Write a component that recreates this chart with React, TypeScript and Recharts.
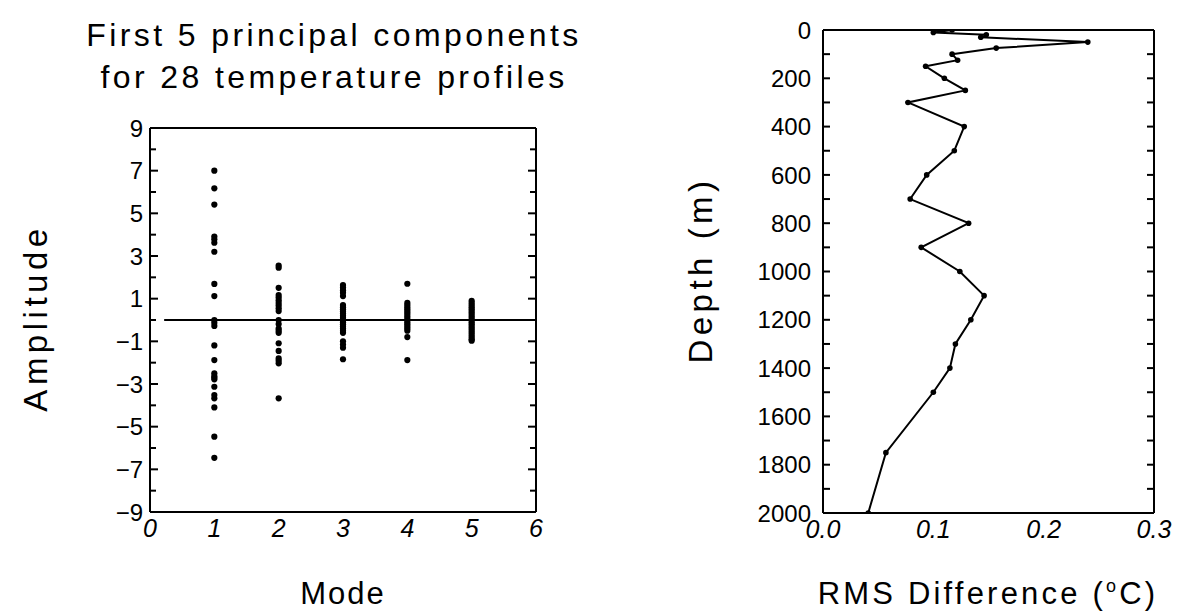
import React from 'react';
import { ScatterChart, Scatter, XAxis, YAxis, ReferenceLine } from 'recharts';

// ---------- Left panel data ----------
const MODES = [1, 2, 3, 4, 5];
const MODE_TICKS = [0, 1, 2, 3, 4, 5, 6];
const MODE_INNER_TICKS = [1, 2, 3, 4, 5];
const AMP_MAJOR = [-9, -7, -5, -3, -1, 1, 3, 5, 7, 9];
const AMP_MINOR = [-8, -6, -4, -2, 0, 2, 4, 6, 8];
const MODE1_AMP = [7.0, 6.17, 5.41, 3.91, 3.78, 3.62, 3.2, 1.69, 1.12, 0.0, -0.13, -0.28, -1.19, -1.88, -2.5, -2.63, -2.7, -2.78, -3.13, -3.52, -3.67, -4.1, -5.47, -6.46];
const MODE2_AMP = [2.55, 2.45, 1.51, 1.17, 1.05, 0.92, 0.8, 0.68, 0.55, 0.42, 0.0, -0.19, -0.4, -0.5, -0.6, -1.09, -1.45, -1.8, -1.91, -2.03, -3.67];
const MODE3_AMP = [1.64, 1.52, 1.4, 1.28, 1.12, 0.7, 0.6, 0.5, 0.4, 0.3, 0.2, 0.1, 0.0, -0.1, -0.2, -0.3, -0.4, -0.5, -0.6, -1.0, -1.15, -1.3, -1.84];
const MODE4_AMP = [1.7, 0.8, 0.7, 0.6, 0.5, 0.4, 0.3, 0.2, 0.1, 0.0, -0.1, -0.2, -0.3, -0.4, -0.5, -0.8, -1.88];
const MODE5_AMP = [0.9, 0.8, 0.7, 0.6, 0.5, 0.4, 0.3, 0.2, 0.1, 0.0, -0.1, -0.2, -0.3, -0.4, -0.5, -0.6, -0.7, -0.8, -0.9, -0.97];
const MODE_AMPS = [MODE1_AMP, MODE2_AMP, MODE3_AMP, MODE4_AMP, MODE5_AMP];
const ZERO_LINE = [{ x: 0.22, y: 0 }, { x: 6, y: 0 }];

// ---------- Right panel data ----------
const DEPTHS = [0, 10, 20, 30, 50, 75, 100, 125, 150, 200, 250, 300, 400, 500, 600, 700, 800, 900, 1000, 1100, 1200, 1300, 1400, 1500, 1750, 2000];
const RMS = [0.117, 0.1, 0.148, 0.143, 0.24, 0.157, 0.117, 0.122, 0.093, 0.11, 0.129, 0.077, 0.128, 0.119, 0.094, 0.079, 0.132, 0.089, 0.124, 0.146, 0.134, 0.12, 0.115, 0.1, 0.057, 0.041];
const DEPTH_MAJOR = [0, 200, 400, 600, 800, 1000, 1200, 1400, 1600, 1800, 2000];
const DEPTH_MINOR = [100, 300, 500, 700, 900, 1100, 1300, 1500, 1700, 1900];
const RMS_LABELS = [0, 0.1, 0.2, 0.3];
const RMS_INNER_TICKS = [0.05, 0.1, 0.15, 0.2, 0.25];

const scatterData = MODES.flatMap((m, i) => MODE_AMPS[i].map((a) => ({ mode: m, amp: a })));
const profileData = DEPTHS.map((d, i) => ({ depth: d, rms: RMS[i] }));

const FONT = '"Liberation Sans", Arial, Helvetica, sans-serif';
const LINE = { stroke: '#000', strokeWidth: 2 };
const TICKLINE = { stroke: '#000', strokeWidth: 2 };

const fmtAmp = (v: number) => (v < 0 ? '\u2212' + Math.abs(v) : String(v));

const YTick = (props: any) => {
  const { x, y, payload, fmt } = props;
  return (
    <text x={x} y={y} dy="0.36em" textAnchor="end" fontSize={24} fontFamily={FONT} fill="#000">
      {fmt(payload.value)}
    </text>
  );
};
const XTick = (props: any) => {
  const { x, y, payload, fmt } = props;
  return (
    <text x={x} y={y + 25} textAnchor="middle" fontSize={25} fontStyle="italic" fontFamily={FONT} fill="#000">
      {fmt(payload.value)}
    </text>
  );
};
const NoLabel = () => <g />;

const LeftDot = (p: any) => <circle cx={p.cx} cy={p.cy} r={3.1} fill="#000" />;
const RightDot = (p: any) => <circle cx={p.cx} cy={p.cy} r={2.8} fill="#000" />;

function LeftPanel() {
  const common = { type: 'number' as const, allowDataOverflow: true, interval: 0 as const };
  return (
    <ScatterChart width={600} height={616} margin={{ top: 128, right: 64, bottom: 103, left: 149 }}>
      <XAxis {...common} xAxisId="b" dataKey="mode" domain={[0, 6]} ticks={MODE_TICKS} orientation="bottom" height={1}
        tickLine={false} tickSize={0} tickMargin={0} axisLine={LINE}
        tick={(p: any) => <XTick {...p} fmt={(v: number) => String(v)} />} />
      <XAxis {...common} xAxisId="bm" domain={[0, 6]} ticks={MODE_INNER_TICKS} orientation="bottom" mirror height={1}
        tick={NoLabel} tickSize={8} tickLine={TICKLINE} axisLine={false} />
      <XAxis {...common} xAxisId="t" domain={[0, 6]} ticks={MODE_INNER_TICKS} orientation="top" mirror height={1}
        tick={NoLabel} tickSize={8} tickLine={TICKLINE} axisLine={LINE} />
      <YAxis {...common} yAxisId="l" dataKey="amp" domain={[-9, 9]} ticks={AMP_MAJOR} orientation="left" width={1}
        tickLine={false} tickSize={0} tickMargin={7} axisLine={LINE}
        tick={(p: any) => <YTick {...p} fmt={fmtAmp} />} />
      <YAxis {...common} yAxisId="lmaj" domain={[-9, 9]} ticks={AMP_MAJOR} orientation="left" mirror width={1}
        tick={NoLabel} tickSize={8} tickLine={TICKLINE} axisLine={false} />
      <YAxis {...common} yAxisId="lmin" domain={[-9, 9]} ticks={AMP_MINOR} orientation="left" mirror width={1}
        tick={NoLabel} tickSize={5} tickLine={TICKLINE} axisLine={false} />
      <YAxis {...common} yAxisId="rmaj" domain={[-9, 9]} ticks={AMP_MAJOR} orientation="right" mirror width={1}
        tick={NoLabel} tickSize={8} tickLine={TICKLINE} axisLine={LINE} />
      <YAxis {...common} yAxisId="rmin" domain={[-9, 9]} ticks={AMP_MINOR} orientation="right" mirror width={1}
        tick={NoLabel} tickSize={5} tickLine={TICKLINE} axisLine={false} />
      <ReferenceLine xAxisId="b" yAxisId="l" segment={ZERO_LINE} stroke="#000" strokeWidth={2} />
      <Scatter xAxisId="b" yAxisId="l" data={scatterData} shape={LeftDot} isAnimationActive={false} />
    </ScatterChart>
  );
}

function RightPanel() {
  const common = { type: 'number' as const, allowDataOverflow: true, interval: 0 as const };
  return (
    <ScatterChart width={588} height={616} margin={{ top: 30, right: 34, bottom: 102, left: 222 }}>
      <XAxis {...common} xAxisId="b" dataKey="rms" domain={[0, 0.3]} ticks={RMS_LABELS} orientation="bottom" height={1}
        tickLine={false} tickSize={0} tickMargin={0} axisLine={LINE}
        tick={(p: any) => <XTick {...p} fmt={(v: number) => v.toFixed(1)} />} />
      <XAxis {...common} xAxisId="bm" domain={[0, 0.3]} ticks={RMS_INNER_TICKS} orientation="bottom" mirror height={1}
        tick={NoLabel} tickSize={7} tickLine={TICKLINE} axisLine={false} />
      <XAxis {...common} xAxisId="t" domain={[0, 0.3]} ticks={RMS_INNER_TICKS} orientation="top" mirror height={1}
        tick={NoLabel} tickSize={7} tickLine={TICKLINE} axisLine={LINE} />
      <YAxis {...common} yAxisId="l" dataKey="depth" domain={[0, 2000]} ticks={DEPTH_MAJOR} reversed orientation="left" width={1}
        tickLine={false} tickSize={0} tickMargin={12} axisLine={LINE}
        tick={(p: any) => <YTick {...p} fmt={(v: number) => String(v)} />} />
      <YAxis {...common} yAxisId="lt" domain={[0, 2000]} ticks={[...DEPTH_MAJOR, ...DEPTH_MINOR]} reversed orientation="left" mirror width={1}
        tick={NoLabel} tickSize={7} tickLine={TICKLINE} axisLine={false} />
      <YAxis {...common} yAxisId="rt" domain={[0, 2000]} ticks={[...DEPTH_MAJOR, ...DEPTH_MINOR]} reversed orientation="right" mirror width={1}
        tick={NoLabel} tickSize={7} tickLine={TICKLINE} axisLine={LINE} />
      <Scatter xAxisId="b" yAxisId="l" data={profileData} line={{ stroke: '#000', strokeWidth: 2 }} lineType="joint"
        shape={RightDot} isAnimationActive={false} />
    </ScatterChart>
  );
}

export default function App() {
  const txt = { fontFamily: FONT, fill: '#000' };
  return (
    <div style={{ position: 'absolute', left: 0, top: 0, width: 1188, height: 616, background: '#fff' }}>
      <div style={{ position: 'absolute', left: 0, top: 0 }}><LeftPanel /></div>
      <div style={{ position: 'absolute', left: 600, top: 0 }}><RightPanel /></div>
      <svg width={1188} height={616} style={{ position: 'absolute', left: 0, top: 0, pointerEvents: 'none' }}>
        <text x={334} y={46} textAnchor="middle" fontSize={32} letterSpacing={3.4} {...txt}>First 5 principal components</text>
        <text x={334} y={88} textAnchor="middle" fontSize={32} letterSpacing={3.4} {...txt}>for 28 temperature profiles</text>
        <text transform="translate(47,318) rotate(-90)" textAnchor="middle" fontSize={33} letterSpacing={4.5} {...txt}>Amplitude</text>
        <text x={343} y={604} textAnchor="middle" fontSize={31} letterSpacing={2} {...txt}>Mode</text>
        <text transform="translate(712,270) rotate(-90)" textAnchor="middle" fontSize={33} letterSpacing={4.5} {...txt}>Depth (m)</text>
        <text x={988} y={604} textAnchor="middle" fontSize={31} letterSpacing={3.2} {...txt}>
          RMS Difference (<tspan fontSize={18} dy={-12}>o</tspan><tspan dy={12}>C)</tspan>
        </text>
      </svg>
    </div>
  );
}
